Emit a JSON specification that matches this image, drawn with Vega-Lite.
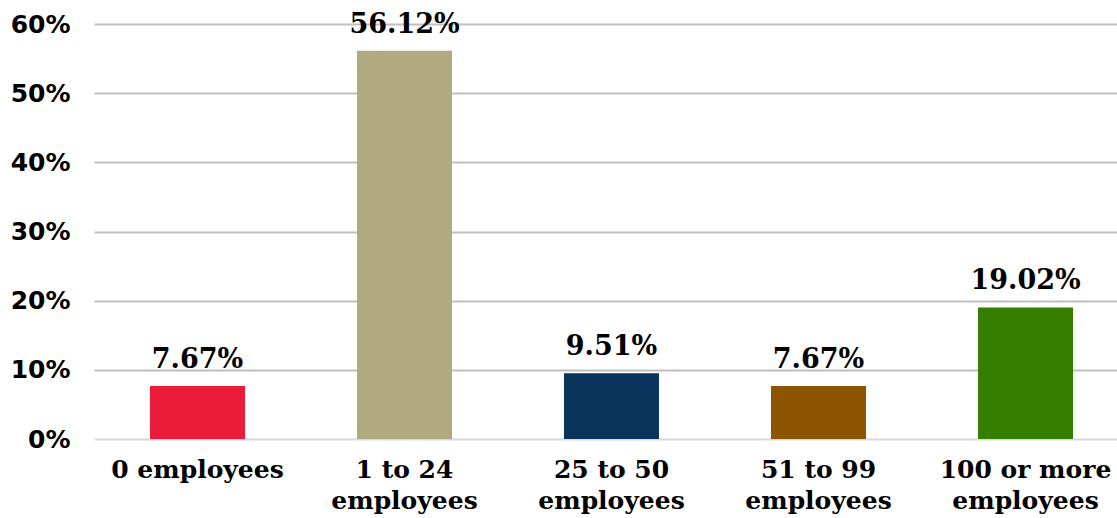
{
  "$schema": "https://vega.github.io/schema/vega-lite/v6.json",
  "autosize": "none",
  "width": 1023,
  "height": 415,
  "padding": {"left": 94, "top": 24, "right": 0, "bottom": 79},
  "background": "white",
  "data": {"values": [
    {"category": "0 employees", "share": 0.0767, "color": "#EB1C3A"},
    {"category": "1 to 24 employees", "share": 0.5612, "color": "#B1A97F"},
    {"category": "25 to 50 employees", "share": 0.0951, "color": "#0B345C"},
    {"category": "51 to 99 employees", "share": 0.0767, "color": "#8D5502"},
    {"category": "100 or more employees", "share": 0.1902, "color": "#357E00"}
  ]},
  "config": {"view": {"stroke": null}},
  "encoding": {
    "x": {
      "field": "category", "type": "nominal", "sort": null,
      "scale": {"paddingInner": 0.541, "paddingOuter": 0.2415, "align": 0.56},
      "axis": {
        "title": null, "labelAngle": 0, "ticks": false, "domain": false,
        "labelFont": "DejaVu Serif", "labelFontWeight": "bold", "labelFontSize": 25,
        "labelColor": "#000000", "labelPadding": 18, "labelLineHeight": 31,
        "labelExpr": "datum.value == '0 employees' ? datum.value : split(replace(datum.value, ' employees', '|employees'), '|')"
      }
    },
    "y": {
      "field": "share", "type": "quantitative",
      "scale": {"domain": [0, 0.6], "nice": false},
      "axis": {
        "title": null, "format": ".0%", "values": [0, 0.1, 0.2, 0.3, 0.4, 0.5, 0.6],
        "ticks": false, "domain": false,
        "labelFont": "DejaVu Sans", "labelFontWeight": "bold", "labelFontSize": 25,
        "labelColor": "#000000", "labelPadding": 24,
        "gridColor": {"condition": {"test": "datum.value == 0", "value": "#D9D9D9"}, "value": "#C0C0C0"},
        "gridWidth": 2
      }
    }
  },
  "layer": [
    {
      "mark": {"type": "bar"},
      "encoding": {"color": {"field": "color", "type": "nominal", "scale": null, "legend": null}}
    },
    {
      "mark": {"type": "text", "baseline": "alphabetic", "dy": -18, "font": "DejaVu Serif", "fontWeight": "bold", "fontSize": 27, "color": "#000000"},
      "encoding": {"text": {"field": "share", "type": "quantitative", "format": ".2%"}}
    }
  ]
}
